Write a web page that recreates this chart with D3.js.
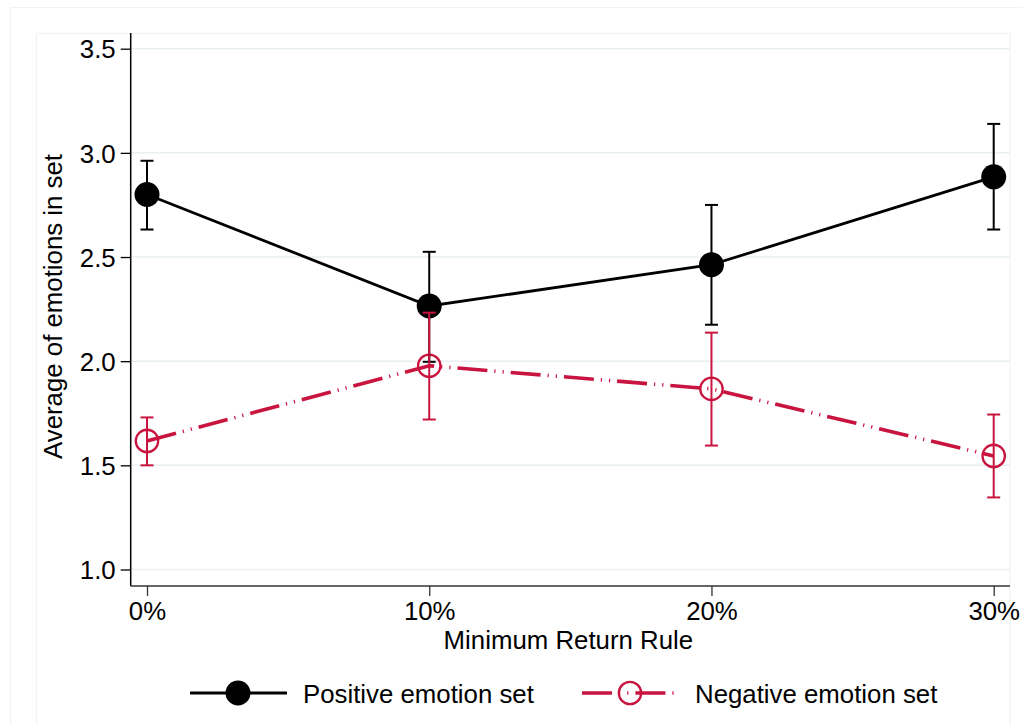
<!DOCTYPE html>
<html>
<head>
<meta charset="utf-8">
<script src="https://cdn.jsdelivr.net/npm/d3@7"></script>
<style>
  html, body { margin: 0; padding: 0; background: #fff; }
  svg text { font-family: "Liberation Sans", Arial, sans-serif; fill: #000; }
</style>
</head>
<body>
<svg id="chart" width="1023" height="725"></svg>
<script>
// ---- data ----
const categories = [0, 10, 20, 30];
const xTickLabels = ["0%", "10%", "20%", "30%"];
const yTicks = [1.0, 1.5, 2.0, 2.5, 3.0, 3.5];

const posMean  = [2.80, 2.265, 2.463, 2.885];
const posLower = [2.632, 1.997, 2.175, 2.632];
const posUpper = [2.962, 2.525, 2.750, 3.139];

const negMean  = [1.617, 1.978, 1.867, 1.545];
const negLower = [1.500, 1.720, 1.595, 1.346];
const negUpper = [1.730, 2.233, 2.137, 1.744];

const seriesNames = ["Positive emotion set", "Negative emotion set"];
const xTitle = "Minimum Return Rule";
const yTitle = "Average of emotions in set";

// ---- layout ----
const svg = d3.select("#chart");
const black = "#000000";
const red = "#c8143e";
const grid = "#e8f0f2";
const frame = "#eef3f5";
const dashPat = "30,7,1.2,7,1.2,7";
const fs = 25.8;

const plotLeft = 130.7, plotRight = 1010, plotTop = 33, plotBottom = 586;

const x = d3.scaleLinear().domain([0, 30]).range([147, 993.7]);
const y = d3.scaleLinear().domain([1.0, 3.5]).range([569.5, 48.7]);

// frames
svg.append("rect").attr("x", 10.5).attr("y", 7.5).attr("width", 1030).attr("height", 730)
  .attr("fill", "none").attr("stroke", frame).attr("stroke-width", 1);
svg.append("rect").attr("x", 36.5).attr("y", 33.5).attr("width", plotRight - 36.5).attr("height", 720)
  .attr("fill", "none").attr("stroke", frame).attr("stroke-width", 1.2);

// gridlines
svg.append("g").selectAll("line").data(yTicks).join("line")
  .attr("x1", plotLeft).attr("x2", plotRight)
  .attr("y1", d => y(d)).attr("y2", d => y(d))
  .attr("stroke", grid).attr("stroke-width", 1.5);

// y axis
const yAxis = d3.axisLeft(y).tickValues(yTicks).tickFormat(d3.format(".1f"))
  .tickSize(10).tickPadding(5).tickSizeOuter(0);
const gy = svg.append("g").attr("transform", `translate(${plotLeft},0)`).call(yAxis);
gy.select(".domain").remove();
gy.selectAll(".tick line").attr("stroke", black).attr("stroke-width", 1.3);
gy.selectAll(".tick text").attr("font-size", fs).attr("font-family", "Liberation Sans, Arial, sans-serif")
  .attr("fill", "#000").attr("dy", "0.36em");
svg.append("line").attr("x1", plotLeft).attr("x2", plotLeft).attr("y1", plotTop).attr("y2", plotBottom)
  .attr("stroke", black).attr("stroke-width", 1.5);

// x axis
const xAxis = d3.axisBottom(x).tickValues(categories).tickFormat((d, i) => xTickLabels[i])
  .tickSize(10).tickPadding(6).tickSizeOuter(0);
const gx = svg.append("g").attr("transform", `translate(0,${plotBottom})`).call(xAxis);
gx.select(".domain").remove();
gx.selectAll(".tick line").attr("stroke", "#333").attr("stroke-width", 1.3);
gx.selectAll(".tick text").attr("font-size", fs).attr("font-family", "Liberation Sans, Arial, sans-serif")
  .attr("fill", "#000").attr("dy", "0.71em");
svg.append("line").attr("x1", plotLeft).attr("x2", plotRight).attr("y1", plotBottom).attr("y2", plotBottom)
  .attr("stroke", "#333").attr("stroke-width", 1.5);

// axis titles
svg.append("text").attr("x", (plotLeft + plotRight) / 2 - 2).attr("y", 649)
  .attr("text-anchor", "middle").attr("font-size", fs).text(xTitle);
svg.append("text").attr("transform", `translate(62,${(plotTop + plotBottom) / 2 - 3}) rotate(-90)`)
  .attr("text-anchor", "middle").attr("font-size", fs).text(yTitle);

// lines
const line = d3.line().x(d => x(d[0])).y(d => y(d[1]));
const posPts = categories.map((c, i) => [c, posMean[i]]);
const negPts = categories.map((c, i) => [c, negMean[i]]);

svg.append("path").attr("d", line(posPts)).attr("fill", "none")
  .attr("stroke", black).attr("stroke-width", 2.8);
svg.append("path").attr("d", line(negPts)).attr("fill", "none")
  .attr("stroke", red).attr("stroke-width", 3.6).attr("stroke-dasharray", dashPat);

// markers
svg.append("g").selectAll("circle").data(posPts).join("circle")
  .attr("cx", d => x(d[0])).attr("cy", d => y(d[1])).attr("r", 12.5).attr("fill", black);
svg.append("g").selectAll("circle").data(negPts).join("circle")
  .attr("cx", d => x(d[0])).attr("cy", d => y(d[1])).attr("r", 11.2)
  .attr("fill", "none").attr("stroke", red).attr("stroke-width", 2.3);

// error bars
function errBars(lower, upper, color) {
  const g = svg.append("g").attr("stroke", color).attr("stroke-width", 2);
  categories.forEach((c, i) => {
    const cx = x(c);
    g.append("line").attr("x1", cx).attr("x2", cx).attr("y1", y(lower[i])).attr("y2", y(upper[i]));
    g.append("line").attr("x1", cx - 6.5).attr("x2", cx + 6.5).attr("y1", y(lower[i])).attr("y2", y(lower[i]));
    g.append("line").attr("x1", cx - 6.5).attr("x2", cx + 6.5).attr("y1", y(upper[i])).attr("y2", y(upper[i]));
  });
}
errBars(posLower, posUpper, black);
errBars(negLower, negUpper, red);

// legend
const legY = 693;
const lg = svg.append("g");
lg.append("line").attr("x1", 190).attr("x2", 287).attr("y1", legY).attr("y2", legY)
  .attr("stroke", black).attr("stroke-width", 2.8);
lg.append("circle").attr("cx", 238).attr("cy", legY).attr("r", 12.5).attr("fill", black);
lg.append("text").attr("x", 303).attr("y", 703).attr("font-size", fs).text(seriesNames[0]);

lg.append("line").attr("x1", 582).attr("x2", 679).attr("y1", legY).attr("y2", legY)
  .attr("stroke", red).attr("stroke-width", 3.6).attr("stroke-dasharray", dashPat);
lg.append("circle").attr("cx", 630).attr("cy", legY).attr("r", 11.2)
  .attr("fill", "none").attr("stroke", red).attr("stroke-width", 2.3);
lg.append("text").attr("x", 695).attr("y", 703).attr("font-size", fs).text(seriesNames[1]);
</script>
</body>
</html>
